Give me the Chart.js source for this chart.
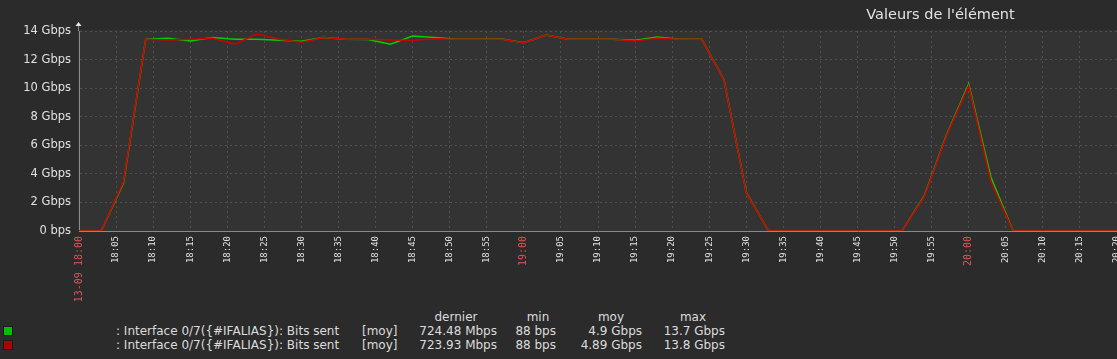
<!DOCTYPE html>
<html><head><meta charset="utf-8">
<script src="https://cdn.jsdelivr.net/npm/chart.js@4.4.0/dist/chart.umd.min.js"></script>
<style>
html,body{margin:0;padding:0;background:#2b2b2b;width:1117px;height:359px;overflow:hidden;}
#wrap{position:relative;width:1117px;height:359px;background:#2b2b2b;}
#c{position:absolute;left:0;top:0;}
#title{position:absolute;left:820px;width:241px;top:5px;text-align:center;color:#e2e2e2;font-family:"DejaVu Sans",sans-serif;font-size:14.5px;line-height:18px;white-space:nowrap;}
.t{position:absolute;color:#dcdcdc;font-family:"DejaVu Sans",sans-serif;font-size:12px;line-height:14px;white-space:nowrap;}
.r{text-align:right;}
.cn{text-align:center;}
.box{position:absolute;width:8px;height:8px;border:1px solid #1c1c1c;}
</style></head>
<body><div id="wrap">
<canvas id="c" width="1117" height="305"></canvas>
<div id="title">Valeurs de l'élément</div>
<div id="legend"></div>
</div>
<script>
// sample times, minutes after 13-09 18:00
const times = [0,3,6,9,12,15,18,21,24,27,30,33,36,39,42,45,48,51,54,57,60,63,66,69,72,75,78,81,84,87,90,93,96,99,102,105,108,111,114,117,120,123,126,129,132,135,138,141];
// series values in Gbps
const greenGbps = [0,0,3.36,13.42,13.49,13.30,13.55,13.42,13.42,13.35,13.28,13.55,13.43,13.40,13.07,13.65,13.55,13.43,13.42,13.44,13.18,13.72,13.42,13.42,13.42,13.35,13.58,13.43,13.42,10.57,2.70,0,0,0,0,0,0,0,2.45,6.72,10.30,3.76,0,0,0,0,0,0];
const redGbps   = [0,0,3.45,13.42,13.37,13.42,13.49,13.07,13.79,13.42,13.21,13.55,13.43,13.42,13.37,13.35,13.45,13.43,13.42,13.42,13.18,13.72,13.42,13.42,13.42,13.30,13.49,13.43,13.42,10.55,2.66,0,0,0,0,0,0,0,2.40,6.67,10.17,3.45,0,0,0,0,0,0];
const xTickLabels = ["13-09 18:00","18:05","18:10","18:15","18:20","18:25","18:30","18:35","18:40","18:45","18:50","18:55","19:00","19:05","19:10","19:15","19:20","19:25","19:30","19:35","19:40","19:45","19:50","19:55","20:00","20:05","20:10","20:15","20:20"];
const yTickLabels = ["0 bps","2 Gbps","4 Gbps","6 Gbps","8 Gbps","10 Gbps","12 Gbps","14 Gbps"];
const legendHeaders = ["dernier","min","moy","max"];
const seriesNames = [": Interface 0/7({#IFALIAS}): Bits sent", ": Interface 0/7({#IFALIAS}): Bits sent"];
const seriesFunc = ["[moy]","[moy]"];
const seriesColors = ["#00c000","#b00000"];
const seriesStats = [["724.48 Mbps","88 bps","4.9 Gbps","13.7 Gbps"],["723.93 Mbps","88 bps","4.89 Gbps","13.8 Gbps"]];

// legend
(function(){
  const lg = document.getElementById('legend');
  const hdrCenters = [456,538,611,693];
  legendHeaders.forEach((h,i)=>{
    const d=document.createElement('div'); d.className='t cn'; d.textContent=h;
    d.style.left=(hdrCenters[i]-40)+'px'; d.style.width='80px'; d.style.top='310px'; lg.appendChild(d);
  });
  const rights=[497,556,642,725];
  seriesNames.forEach((n,r)=>{
    const top = 324 + r*14;
    const b=document.createElement('div'); b.className='box'; b.style.left='3px'; b.style.top=(top+2)+'px'; b.style.background=seriesColors[r]; lg.appendChild(b);
    const a=document.createElement('div'); a.className='t'; a.textContent=n; a.style.left='116px'; a.style.top=top+'px'; lg.appendChild(a);
    const f=document.createElement('div'); f.className='t'; f.textContent=seriesFunc[r]; f.style.left='362px'; f.style.top=top+'px'; lg.appendChild(f);
    seriesStats[r].forEach((s,i)=>{
      const d=document.createElement('div'); d.className='t r'; d.textContent=s;
      d.style.left=(rights[i]-100)+'px'; d.style.width='100px'; d.style.top=top+'px'; lg.appendChild(d);
    });
  });
})();

const toPts = arr => times.map((t,i)=>({x:t,y:arr[i]}));
const bgPlugin = {
  id:'bg',
  beforeDraw(chart){
    const {ctx, chartArea:a} = chart;
    ctx.save(); ctx.fillStyle='#333333';
    ctx.fillRect(a.left-1, a.top-1, a.right-a.left+1, a.bottom-a.top+1);
    ctx.restore();
  },
  afterDraw(chart){
    const {ctx, chartArea:a} = chart;
    ctx.save(); ctx.fillStyle='#e8e8e8';
    ctx.beginPath(); ctx.moveTo(a.left-0.5, a.top-9); ctx.lineTo(a.left+2.5, a.top-5); ctx.lineTo(a.left-3.5, a.top-5); ctx.closePath(); ctx.fill();
    ctx.strokeStyle='#8a8a8a'; ctx.lineWidth=1; ctx.beginPath(); ctx.moveTo(a.left-0.5,a.top-5); ctx.lineTo(a.left-0.5,a.top); ctx.stroke();
    ctx.restore();
  }
};
new Chart(document.getElementById('c'), {
  type:'line',
  data:{datasets:[
    {label:'red', data:toPts(redGbps), borderColor:'#d00000', borderWidth:1.5, pointRadius:0, tension:0, order:0},
    {label:'green', data:toPts(greenGbps), borderColor:'#00d000', borderWidth:1.5, pointRadius:0, tension:0, order:1}
  ]},
  options:{
    responsive:false, animation:false, devicePixelRatio:1,
    layout:{padding:{top:31,left:0,right:0,bottom:0}},
    plugins:{legend:{display:false}, tooltip:{enabled:false}, title:{display:false}},
    scales:{
      x:{type:'linear', min:0, max:140,
        grid:{color:'#505050', drawTicks:false, lineWidth:1},
        border:{display:true, color:'#8a8a8a', dash:[2,3]},
        ticks:{stepSize:5, autoSkip:false, minRotation:90, maxRotation:90, padding:5,
          color: c => (c.tick && c.tick.value % 60 === 0) ? '#e05555' : '#e0e0e0',
          font: c => (c.tick && c.tick.value % 60 === 0) ? {family:'"DejaVu Sans Mono", monospace', size:10} : {family:'"DejaVu Sans Mono", monospace', size:9},
          callback: v => xTickLabels[Math.round(v/5)]
        },
        afterFit(s){ s.height = 74; s.paddingLeft = 0; s.paddingRight = 0; }
      },
      y:{min:0, max:14,
        grid:{color:'#505050', drawTicks:false, lineWidth:1},
        border:{display:true, color:'#8a8a8a', dash:[2,3]},
        ticks:{stepSize:2, padding:8, color:'#e0e0e0', font:{family:'"DejaVu Sans", sans-serif', size:11.5},
          callback: v => yTickLabels[Math.round(v/2)]
        },
        afterFit(s){ s.width = 79; s.paddingTop = 0; s.paddingBottom = 0; }
      }
    }
  },
  plugins:[bgPlugin]
});
</script>
</body></html>
